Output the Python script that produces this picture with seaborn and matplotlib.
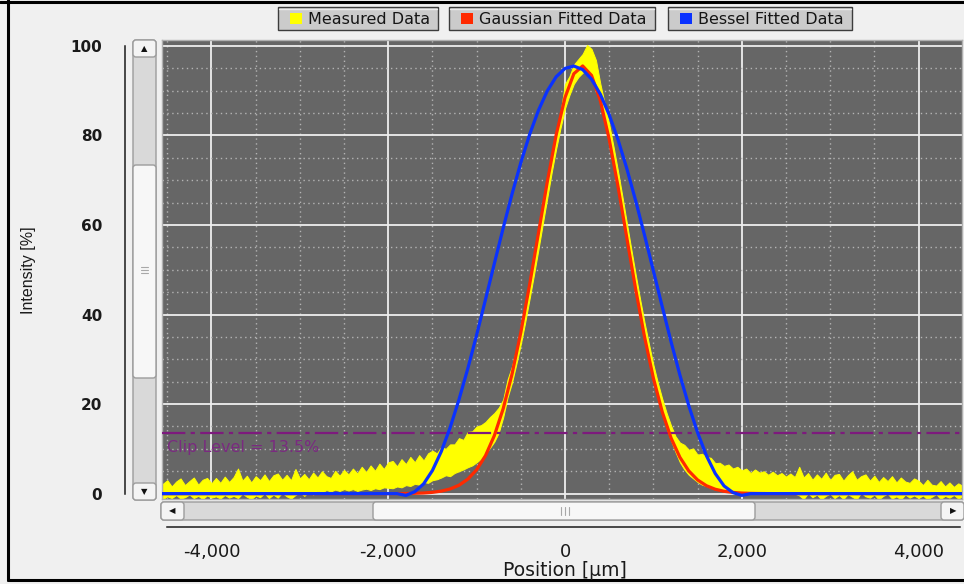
import numpy as np
import matplotlib
matplotlib.use("Agg")
import matplotlib.pyplot as plt
from matplotlib.patches import Rectangle, FancyBboxPatch
from matplotlib.ticker import MultipleLocator, FuncFormatter
import seaborn as sns

# measured trace, kept as its min / max envelope in 50 um bins
meas_x = np.arange(-4550, 4501, 50)
meas_lo = [
    -1.2, -0.6, -1.0, -0.3, -1.1, -0.8, -0.2, -1.0, -0.5, -1.2, -0.4, -0.9,
    -0.6, -1.1, -0.3, -0.9, -0.5, -1.0, 0.0, -0.7, -1.2, -0.4,
    -0.8, 0.1, -1.0, -0.2, -0.9, 0.2, -0.6, -1.1, -0.3, 0.3,
    -0.5, 0.4, -0.2, 0.6, 0.3, 0.8, 0.5, 0.9, 0.6, 1.0,
    0.7, 1.0, 0.6, 0.9, 1.1, 0.8, 1.2, 1.0, 1.4, 1.3,
    1.2, 1.6, 1.4, 1.9, 1.7, 2.2, 2.0, 2.6, 2.4, 3.0,
    3.2, 3.6, 4.1, 3.9, 4.6, 5.0, 5.4, 5.9, 6.3, 7.0,
    7.8, 9.0, 10.2, 11.6, 13.6, 17.0,
    21.5, 24.8, 29.0, 33.4, 38.3, 43.6, 49.0, 54.6, 60.4, 66.1,
    71.8, 77.0, 81.7, 86.0, 89.0, 91.5, 93.0, 94.0, 94.5, 93.0,
    91.5, 87.5, 83.0, 78.8, 73.8, 68.4, 62.6, 56.9, 51.0, 45.3,
    39.8, 34.6, 29.8, 25.3, 21.3, 17.8, 14.6, 11.9,
    9.3, 7.0, 5.4, 4.2, 3.4, 2.6, 2.0, 1.7, 1.3, 1.0, 0.9, 0.7, 0.8, 0.5, 0.6, 0.4,
    0.5, 0.2, 0.4, 0.1, 0.5, 0.2, 0.3, 0.0, 0.4, 0.1, 0.3, 0.0,
    -0.4, -1.2, 0.1, -0.8, -0.2, -1.3, -0.5, 0.0, -1.0, -0.3, -1.2, -0.1, -0.7, -1.3, 0.2, -0.6,
    -0.9, -0.2, -1.3, -0.5, 0.0, -1.1, -0.6, -1.3, -0.2, -0.9, -0.4,
    -1.0, -0.4, -1.3, -0.7, -0.1, -1.2, -0.5, -0.9, -0.3, -1.1, -0.6,
]
meas_hi = [
    2.2, 3.0, 1.6, 2.7, 3.4, 1.9, 2.8, 3.6, 2.0, 3.1, 3.5, 2.3,
    3.5, 2.4, 3.8, 2.6, 3.7, 5.6, 2.9, 4.0, 2.5, 3.9,
    3.0, 4.3, 2.8, 4.1, 4.5, 3.1, 4.2, 3.0, 5.5, 3.4,
    4.4, 3.2, 4.7, 3.6, 5.0, 3.9, 3.5, 5.1, 4.0, 5.3,
    4.3, 5.6, 4.5, 6.0, 4.8, 6.3, 5.1, 6.7, 5.5, 7.0,
    7.3, 6.1, 7.7, 6.6, 8.2, 7.0, 8.6, 7.4, 9.0, 9.6,
    9.0, 10.4, 10.0, 11.0, 11.0, 12.4, 12.0, 13.8, 13.9, 15.0,
    15.3, 16.0, 17.1, 18.0, 19.2, 21.0,
    25.5, 28.4, 32.3, 36.9, 41.6, 46.9, 52.3, 57.8, 63.7, 69.3,
    75.0, 80.2, 85.2, 91.5, 93.2, 95.8, 97.0, 98.2, 100.2, 99.3,
    96.8, 91.5, 87.0, 82.5, 77.4, 72.0, 66.3, 60.4, 54.6, 48.9,
    43.4, 38.2, 33.4, 28.8, 24.8, 21.2, 18.0, 15.2,
    12.8, 11.4, 10.9, 9.8, 10.1, 8.7, 8.9, 8.2, 8.0, 6.8, 6.9, 6.2, 6.5, 5.6, 6.0, 5.2,
    5.6, 4.6, 5.4, 4.7, 5.0, 4.2, 4.9, 4.1, 4.6, 3.8, 4.5, 3.7,
    6.0, 3.6, 4.6, 3.1, 4.3, 3.3, 4.7, 3.0, 4.2, 4.4, 2.9, 4.1, 5.0, 3.1, 3.9, 4.3,
    2.9, 4.0, 2.6, 3.7, 2.8, 3.9, 2.5, 3.6, 2.7, 2.4, 3.4,
    2.9, 1.9, 3.1, 2.0, 1.8, 2.8, 1.6, 2.5, 1.5, 2.3, 1.7,
]

# fitted curves, 100 um steps across the beam, flat zero outside
fit_x = np.concatenate([[-4600], np.arange(-2000, 2501, 100), [4600]])
gauss_fit = [
    0.0,
    0.0, 0.01, 0.03, 0.07, 0.14, 0.29, 0.56, 1.04, 1.87, 3.23,
    5.34, 8.47, 12.93, 18.94, 26.64, 35.99, 46.71, 58.22, 69.69, 80.11,
    88.44, 93.77, 95.50, 93.40, 87.73, 79.14, 68.57, 57.06, 45.59, 34.99,
    25.79, 18.26, 12.42, 8.11, 5.08, 3.06, 1.77, 0.98, 0.52, 0.27,
    0.13, 0.06, 0.03, 0.01, 0.0, 0.0,
    0.0,
]
bessel_fit = [
    0.0,
    0.0, 0.0, -0.4, 0.43, 2.17, 5.17, 9.41, 14.74, 20.98, 27.91,
    35.43, 43.32, 51.34, 59.27, 66.86, 73.91, 80.22, 85.61, 89.95, 93.09,
    94.95, 95.49, 94.69, 92.56, 89.17, 84.61, 79.02, 72.55, 65.37, 57.70,
    49.76, 41.76, 33.92, 26.48, 19.67, 13.64, 8.48, 4.49, 1.71, 0.24,
    -0.4, 0.0, 0.0, 0.0, 0.0, 0.0,
    0.0,
]

clip_level = 13.5
legend_labels = ["Measured Data", "Gaussian Fitted Data", "Bessel Fitted Data"]
colors = ["#ffff00", "#ff2a00", "#0a32ff"]
x_ticks = [-4000, -2000, 0, 2000, 4000]
y_ticks = [0, 20, 40, 60, 80, 100]

W, H = 964, 584


def fbox(x0, y0, x1, y1):
    # pixel box (origin top-left) -> figure rect
    return [x0 / W, 1 - y1 / H, (x1 - x0) / W, (y1 - y0) / H]


sns.set_style("white")
plt.rcParams["font.family"] = ["DejaVu Sans"]

fig = plt.figure(figsize=(W / 100, H / 100), dpi=100, facecolor="#f0f0f0")

# window chrome drawn in pixel coordinates
ui = fig.add_axes([0, 0, 1, 1], zorder=-1)
ui.set_xlim(0, W)
ui.set_ylim(H, 0)
ui.axis("off")


def button(x0, y0, x1, y1, fc):
    ui.add_patch(FancyBboxPatch((x0, y0), x1 - x0, y1 - y0,
                                boxstyle="round,pad=0,rounding_size=3",
                                fc=fc, ec="#9c9c9c", lw=1))


# vertical scrollbar
button(133, 40, 156, 500, "#d9d9d9")
button(133, 40, 156, 57, "#f4f4f4")
button(133, 165, 156, 378, "#f7f7f7")
button(133, 483, 156, 500, "#f4f4f4")
ui.text(144.5, 49, "\u25b2", fontsize=6, ha="center", va="center", color="#111")
ui.text(144.5, 492, "\u25bc", fontsize=6, ha="center", va="center", color="#111")
for yy in (267, 270, 273):
    ui.plot([141, 148], [yy, yy], color="#a8a8a8", lw=0.8)

# horizontal scrollbar
button(161, 502, 964, 520, "#d9d9d9")
button(161, 502, 184, 520, "#f4f4f4")
button(373, 502, 755, 520, "#f7f7f7")
button(941, 502, 964, 520, "#f4f4f4")
ui.text(172, 511, "\u25c0", fontsize=6, ha="center", va="center", color="#111")
ui.text(953, 511, "\u25b6", fontsize=6, ha="center", va="center", color="#111")
for xx in (561, 565, 569):
    ui.plot([xx, xx], [507, 515], color="#a8a8a8", lw=0.8)

# legend buttons
legend_boxes = [(278, 438), (449, 655), (668, 852)]
for (x0, x1), label, col in zip(legend_boxes, legend_labels, colors):
    ui.add_patch(Rectangle((x0, 7), x1 - x0, 23, fc="#cbcbcb", ec="#3c3c3c", lw=1))
    ui.plot([x0 + 1, x1 - 1], [8.5, 8.5], color="#ececec", lw=1)
    ui.add_patch(Rectangle((x0 + 12, 13), 12, 11, fc=col, ec="none"))
    ui.text(x0 + 30, 19, label, va="center", ha="left", fontsize=11.5, color="#151515")

# outer frame
ui.plot([0, W], [1.5, 1.5], color="black", lw=2.2)
ui.plot([8, 8], [0, 580], color="black", lw=2.2)
ui.plot([8, W], [579.5, 579.5], color="black", lw=2.2)

# plot area
ax = fig.add_axes(fbox(162, 40, 962, 499))
ax.set_facecolor("#666666")
ax.set_xlim(-4560, 4492)
ax.set_ylim(-1.2, 101.3)
ax.xaxis.set_major_locator(MultipleLocator(2000))
ax.xaxis.set_minor_locator(MultipleLocator(500))
ax.yaxis.set_major_locator(MultipleLocator(20))
ax.yaxis.set_minor_locator(MultipleLocator(5))
ax.grid(which="major", color="#eeeeee", lw=1.3, ls="-")
ax.grid(which="minor", color="#b4b4b4", lw=1.0, ls=(0, (1, 2.5)))
ax.tick_params(which="both", length=0, labelbottom=False, labelleft=False)
ax.set_axisbelow(True)
for s in ax.spines.values():
    s.set_color("#b0b0b0")
    s.set_linewidth(1)

ax.fill_between(meas_x, meas_lo, meas_hi, color=colors[0], edgecolor=colors[0],
                lw=0.7, zorder=2)
ax.axhline(clip_level, color="#7d1a7d", lw=1.6, ls=(0, (10.5, 2.4, 1.9, 2.4)), zorder=3)
ax.text(-4500, 10.3, "Clip Level = 13.5%", color="#7a2a80", fontsize=11.5,
        va="center", ha="left", zorder=3)
sns.lineplot(x=fit_x, y=gauss_fit, ax=ax, color=colors[1], lw=2.3,
             estimator=None, zorder=4)
sns.lineplot(x=fit_x, y=bessel_fit, ax=ax, color=colors[2], lw=2.3,
             estimator=None, zorder=5)
ax.set_xlabel("")
ax.set_ylabel("")

# y ruler left of the scrollbar
ay = fig.add_axes(fbox(125, 40, 126, 499))
ay.set_facecolor("none")
ay.set_ylim(ax.get_ylim())
ay.set_xticks([])
for s in ("top", "right", "bottom"):
    ay.spines[s].set_visible(False)
ay.spines["left"].set_bounds(0, 100)
ay.spines["left"].set_color("#1a1a1a")
ay.spines["left"].set_linewidth(1.1)
ay.set_yticks(y_ticks)
ay.yaxis.set_minor_locator(MultipleLocator(5))
ay.tick_params(which="major", direction="out", length=9.4, width=1.1, pad=7,
               labelsize=11, labelcolor="#1a1a1a", color="#1a1a1a")
ay.tick_params(which="minor", direction="out", length=7.2, width=1.1, color="#1a1a1a")
for lab in ay.get_yticklabels():
    lab.set_fontweight("bold")

# x ruler under the scrollbar
axr = fig.add_axes(fbox(162, 526, 962, 527))
axr.set_facecolor("none")
axr.set_xlim(ax.get_xlim())
axr.set_yticks([])
for s in ("top", "right", "left"):
    axr.spines[s].set_visible(False)
axr.spines["bottom"].set_bounds(-4500, 4475)
axr.spines["bottom"].set_color("#1a1a1a")
axr.spines["bottom"].set_linewidth(1.1)
axr.set_xticks(x_ticks)
axr.xaxis.set_minor_locator(MultipleLocator(500))
axr.xaxis.set_major_formatter(FuncFormatter(lambda v, p: f"{v:,.0f}"))
axr.tick_params(which="major", direction="out", length=6.5, width=1.1, pad=5,
                labelsize=13, labelcolor="#1a1a1a", color="#1a1a1a")
axr.tick_params(which="minor", direction="out", length=3.6, width=1.1, color="#1a1a1a")

fig.text(565 / W, 1 - 571 / H, "Position [\u00b5m]", ha="center", va="center",
         fontsize=13.5, color="#1a1a1a")
fig.text(28 / W, 1 - 270 / H, "Intensity [%]", rotation=90, ha="center", va="center",
         fontsize=11.5, family="Liberation Sans", color="#1a1a1a")

fig.savefig("out.png", dpi=100, facecolor=fig.get_facecolor())
